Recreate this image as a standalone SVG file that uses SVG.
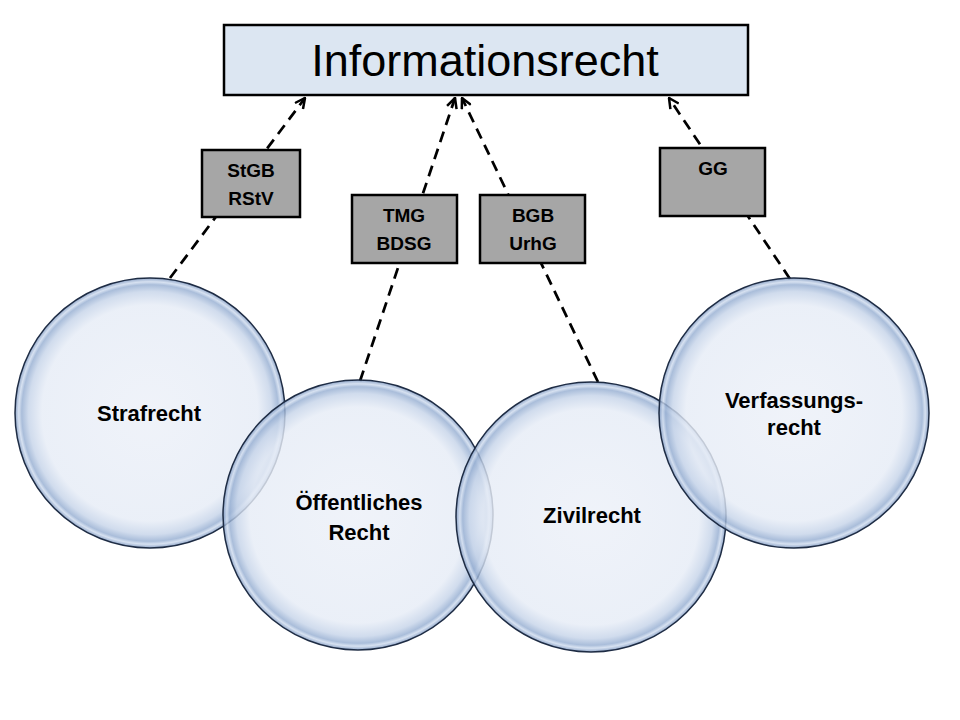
<svg xmlns="http://www.w3.org/2000/svg" width="960" height="720" viewBox="0 0 960 720">
<defs>
<radialGradient id="bub" cx="0.5" cy="0.5" r="0.5">
<stop offset="0" stop-color="#ECF0F8"/>
<stop offset="0.8" stop-color="#E6ECF6"/>
<stop offset="0.9" stop-color="#C6D4E9"/>
<stop offset="0.95" stop-color="#97AFD2"/>
<stop offset="0.972" stop-color="#CEDBEE"/>
<stop offset="1" stop-color="#7893BD"/>
</radialGradient>
<marker id="arr" viewBox="0 0 12 12" refX="11" refY="6" markerWidth="12" markerHeight="12" markerUnits="userSpaceOnUse" orient="auto">
<path d="M1,1 L11,6 L1,11" fill="none" stroke="#000" stroke-width="2.5"/>
</marker>
<style>
.bubble{fill:url(#bub);fill-opacity:0.82;stroke:#1E2C44;stroke-width:1.5}
.law{fill:#A6A6A6;stroke:#000;stroke-width:2.5}
.con{fill:none;stroke:#000;stroke-width:2.75;stroke-dasharray:11 7;marker-end:url(#arr)}
.t{font-family:"Liberation Sans",Arial,sans-serif;font-weight:bold;fill:#000;text-anchor:middle}
.ct{font-size:22px}
.lt{font-size:19px}
</style>
</defs>
<rect width="960" height="720" fill="#fff"/>
<g id="connectors">
<line class="con" x1="170" y1="278" x2="305" y2="98"/>
<line class="con" x1="360" y1="381" x2="455" y2="98"/>
<line class="con" x1="598" y1="382" x2="462" y2="98"/>
<line class="con" x1="790" y1="279" x2="669" y2="98"/>
</g>
<g id="informationsrecht">
<rect x="224" y="25" width="524" height="70" fill="#DCE6F2" stroke="#000" stroke-width="2.5"/>
<text x="485" y="76" font-family="'Liberation Sans',Arial,sans-serif" font-size="45" text-anchor="middle" fill="#000">Informationsrecht</text>
</g>
<g id="strafrecht">
<circle class="bubble" cx="150" cy="413" r="135"/>
<text class="t ct" x="149" y="421">Strafrecht</text>
</g>
<g id="oeffentliches-recht">
<circle class="bubble" cx="358" cy="515" r="135"/>
<text class="t ct" x="359" y="510">Öffentliches</text>
<text class="t ct" x="359" y="540">Recht</text>
</g>
<g id="zivilrecht">
<circle class="bubble" cx="591" cy="517" r="135"/>
<text class="t ct" x="592" y="523">Zivilrecht</text>
</g>
<g id="verfassungsrecht">
<circle class="bubble" cx="794" cy="413" r="135"/>
<text class="t ct" x="794" y="408">Verfassungs-</text>
<text class="t ct" x="794" y="435">recht</text>
</g>
<g id="stgb-rstv">
<rect class="law" x="202" y="150" width="98" height="67"/>
<text class="t lt" x="251" y="177">StGB</text>
<text class="t lt" x="251" y="205">RStV</text>
</g>
<g id="tmg-bdsg">
<rect class="law" x="352" y="195" width="105" height="68"/>
<text class="t lt" x="404" y="222">TMG</text>
<text class="t lt" x="404" y="250">BDSG</text>
</g>
<g id="bgb-urhg">
<rect class="law" x="480" y="195" width="105" height="68"/>
<text class="t lt" x="533" y="222">BGB</text>
<text class="t lt" x="533" y="250">UrhG</text>
</g>
<g id="gg">
<rect class="law" x="660" y="148" width="105" height="68"/>
<text class="t lt" x="713" y="175">GG</text>
</g>
</svg>
